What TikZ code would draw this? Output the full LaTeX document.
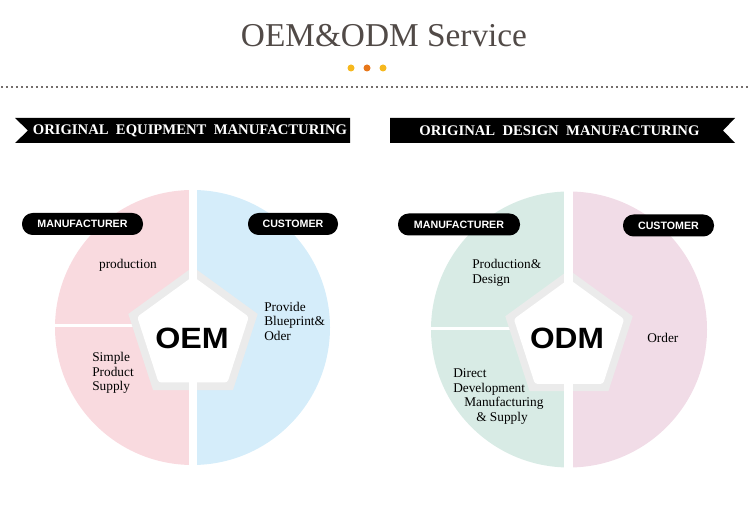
\documentclass[tikz,border=0pt]{standalone}
\usepackage{fontspec}
\setmainfont{Liberation Serif}
\newfontfamily\pillfont{Liberation Sans}
\usepackage{tikz}
\usetikzlibrary{shapes.geometric,positioning}

\definecolor{titlegray}{HTML}{514A47}
\definecolor{dotgold}{HTML}{F6B81E}
\definecolor{dotorange}{HTML}{E8771A}
\definecolor{oemmaker}{HTML}{F9DADF}
\definecolor{oemclient}{HTML}{D5EDFA}
\definecolor{odmmaker}{HTML}{D8EBE5}
\definecolor{odmclient}{HTML}{F1DCE7}
\definecolor{ringgray}{HTML}{EBEBEB}

\begin{document}
\begin{tikzpicture}[
    x=0.75pt, y=-0.75pt,
    banner/.style={text=white, font=\bfseries\fontsize{11}{12}\selectfont, inner sep=0pt},
    pill/.style={fill=black, text=white, rounded corners=8pt, minimum height=16.5pt, inner sep=0pt, font=\pillfont\bfseries\fontsize{8}{9}\selectfont},
    ring/.style={regular polygon, regular polygon sides=5, fill=ringgray, inner sep=0pt, minimum size=102pt},
    core/.style={regular polygon, regular polygon sides=5, fill=white, inner sep=0pt, minimum size=88pt, rounded corners=2pt},
    big/.style={font=\pillfont\bfseries\fontsize{22}{24}\selectfont},
    note/.style={align=left, inner sep=0pt, font=\fontsize{10}{10.9}\selectfont},
    gap/.style={white, line width=6pt}
]
\useasboundingbox (0,0) rectangle (750,505);

% Heading
\node[text=titlegray, font=\fontsize{25}{27}\selectfont] (title) at (384,36) {OEM\&ODM Service};
\fill[dotgold] (351,68) circle (3.5);
\fill[dotorange] (367,68) circle (3.5);
\fill[dotgold] (383,68) circle (3.5);
\draw[titlegray!80, line width=1.5pt, dash pattern=on 1.5pt off 2.25pt] (1,87) -- (750,87);

% Banners
\fill[black] (15,118) -- (350,118) -- (350,143) -- (15,143) -- (28,130.5) -- cycle;
\node[banner] (oembanner) at (190,130.5) {ORIGINAL\ \ EQUIPMENT\ \ MANUFACTURING};
\fill[black] (390,118) -- (735,118) -- (723,130.5) -- (735,143) -- (390,143) -- cycle;
\node[banner] (odmbanner) at (559.5,130.5) {ORIGINAL\ \ DESIGN\ \ MANUFACTURING};

% OEM wheel
\fill[oemmaker] (192.5,327.5) ++(90:137.5) arc[start angle=90, end angle=270, radius=137.5] -- cycle;
\fill[oemclient] (192.5,327.5) ++(270:137.5) arc[start angle=270, end angle=450, radius=137.5] -- cycle;
\draw[white, line width=2.25pt] (54,326) -- (140,326);
\node[ring] (oemring) at (193,335) {};
\node[core] (oemcore) at (193,335) {};
\draw[gap] (193,188) -- (193,467);
\node[big] (oemlabel) at (192,338) {\scalebox{1.1}[1]{OEM}};

\node[pill, minimum width=90.75pt] (oemmaker) at (82.5,224) {MANUFACTURER};
\node[pill, minimum width=67.5pt] (oemclient) at (293,224) {CUSTOMER};

\node[note, anchor=center] (oemprod) at (128,265) {production};
\node[note, anchor=west] (oemsupply) at (92,373) {Simple\\Product\\Supply};
\node[note, anchor=west] (oemorder) at (264,321) {Provide\\Blueprint\&\\Oder};

% ODM wheel
\fill[odmmaker] (569,329.5) ++(90:138) arc[start angle=90, end angle=270, radius=138] -- cycle;
\fill[odmclient] (569,329.5) ++(270:138) arc[start angle=270, end angle=450, radius=138] -- cycle;
\draw[white, line width=2.25pt] (430,329) -- (515,329);
\node[ring, minimum size=100.5pt] (odmring) at (569,337) {};
\node[core, minimum size=87pt] (odmcore) at (569,337) {};
\draw[gap, line width=6.75pt] (568.5,190) -- (568.5,469);
\node[big] (odmlabel) at (567,338) {\scalebox{1.08}[1]{ODM}};

\node[pill, minimum width=91.5pt] (odmmaker) at (459,224.5) {MANUFACTURER};
\node[pill, minimum width=68.25pt] (odmclient) at (668.5,225.5) {CUSTOMER};

\node[note, anchor=west] (odmprod) at (472,273) {Production\&\\Design};
\node[note, anchor=west] (odmsupply) at (453,396.5) {Direct\\Development\\\hspace*{8.25pt}Manufacturing\\\hspace*{17.25pt}\& Supply};
\node[note, anchor=west] (odmorder) at (647,338) {Order};
\end{tikzpicture}
\end{document}
